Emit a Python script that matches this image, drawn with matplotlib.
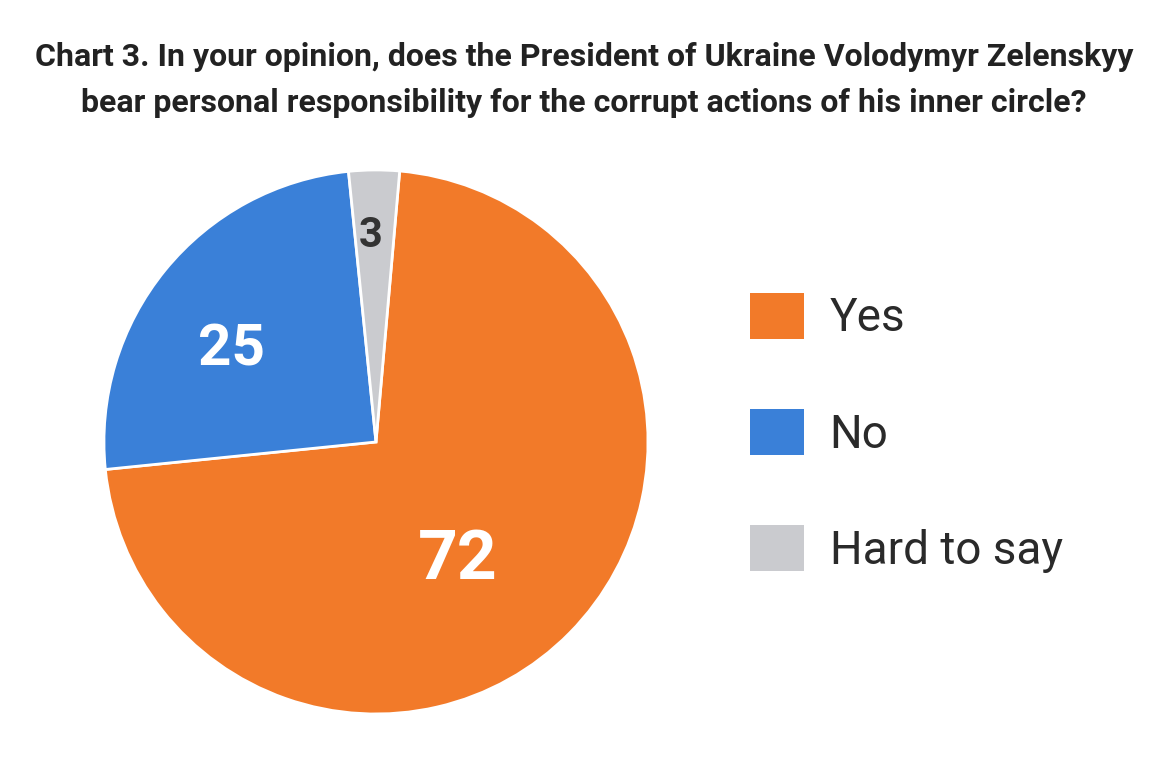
import numpy as np
import matplotlib
matplotlib.use("Agg")
import matplotlib.pyplot as plt
from matplotlib.patches import Patch

# datos
categorias = ["Yes", "No", "Hard to say"]
valores = [72, 25, 3]
colores = ["#F27A29", "#3A80D8", "#CACBCF"]
titulo = ("Chart 3. In your opinion, does the President of Ukraine Volodymyr Zelenskyy\n"
          "bear personal responsibility for the corrupt actions of his inner circle?")

plt.rcParams['font.family'] = ['Roboto', 'DejaVu Sans']

fig = plt.figure(figsize=(11.68, 7.84), dpi=100)
fig.patch.set_facecolor("white")

ax = fig.add_axes([0.089, 0.0893, 0.4658, 0.6939])
wedges, _ = ax.pie(valores, colors=colores, startangle=85, counterclock=False,
                   radius=1, wedgeprops=dict(edgecolor="white", linewidth=2))
ax.set_xlim(-1, 1)
ax.set_ylim(-1, 1)
ax.set_aspect("auto")
ax.axis("off")

# etiquetas dentro de cada porcion (angulo, radio)
ang_lbl = [-55.5, 147.4, 91.5]
radios = [0.53, 0.63, 0.76]
tamanos = [50, 42, 30]
col_txt = ["white", "white", "#333333"]
for v, a, r, s, c in zip(valores, ang_lbl, radios, tamanos, col_txt):
    ang = np.deg2rad(a)
    ax.text(r * np.cos(ang), r * np.sin(ang), str(v), ha="center", va="center",
            fontsize=s, fontweight="bold", color=c)

fig.text(0.5, 0.898, titulo, ha="center", va="center", fontsize=23,
         fontweight="bold", color="#222222", linespacing=1.7)

handles = [Patch(facecolor=c, edgecolor="none") for c in colores]
leg = fig.legend(handles, categorias, loc="center left", bbox_to_anchor=(0.607, 0.448),
                 frameon=False, fontsize=33, handlelength=1.17, handleheight=1.17,
                 labelspacing=1.5, handletextpad=0.56, labelcolor="#2a2a2a")

fig.savefig("out.png", dpi=100)
